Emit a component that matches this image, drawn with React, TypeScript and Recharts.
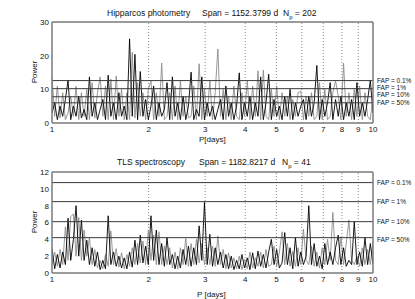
import React from "react";
import { LineChart, Line, XAxis, YAxis, ReferenceLine } from "recharts";

const periods = [
  1.0, 1.0194, 1.0391, 1.0593, 1.0798, 1.1007, 1.122, 1.1438, 1.1659, 1.1885,
  1.2115, 1.235, 1.2589, 1.2833, 1.3082, 1.3335, 1.3594, 1.3857, 1.4125, 1.4399,
  1.4678, 1.4962, 1.5252, 1.5548, 1.5849, 1.6156, 1.6469, 1.6788, 1.7113, 1.7445,
  1.7783, 1.8128, 1.8478, 1.8836, 1.9201, 1.9573, 1.9953, 2.0339, 2.0733, 2.1135,
  2.1544, 2.1962, 2.2387, 2.2821, 2.3263, 2.3714, 2.4174, 2.4642, 2.5119, 2.5606,
  2.6102, 2.6607, 2.7123, 2.7649, 2.8184, 2.873, 2.9286, 2.9854, 3.0432, 3.1022,
  3.1623, 3.2235, 3.286, 3.3497, 3.4145, 3.4807, 3.5481, 3.6169, 3.6869, 3.7584,
  3.8312, 3.9054, 3.9811, 4.0582, 4.1368, 4.217, 4.2987, 4.382, 4.4668, 4.5534,
  4.6416, 4.7315, 4.8232, 4.9166, 5.0119, 5.109, 5.208, 5.3088, 5.4117, 5.5165,
  5.6234, 5.7325, 5.8434, 5.9566, 6.0719, 6.1896, 6.3096, 6.4319, 6.5563, 6.6834,
  6.8129, 6.9448, 7.0795, 7.2167, 7.3564, 7.4989, 7.6443, 7.7923, 7.9433, 8.0972,
  8.254, 8.414, 8.577, 8.7431, 8.9125, 9.0852, 9.2611, 9.4406, 9.6235, 9.8101, 10.0,
];

// Hipparcos photometry power (black / grey traces)
const hipBlack = [
  3, 6, 1, 5, 2, 7, 12.7, 1, 5, 2, 8, 1.5, 4, 1, 13.7, 2, 6, 1, 4, 7,
  1, 14.2, 2, 6, 1, 9, 2, 5, 1, 25, 2, 20.4, 1, 15.3, 2, 7, 1, 5, 11, 1,
  6, 2, 4, 12, 1, 13.7, 2, 6, 1, 8, 1, 5, 15.1, 1, 4, 2, 13.7, 1, 6, 2,
  5, 1, 4, 7, 1, 11, 2, 6, 1, 5, 14.9, 1, 6, 2, 8, 1, 6, 2, 13.7, 1,
  6, 14.5, 1, 7, 2, 5, 1, 8, 2, 10, 1, 6, 2, 5, 7, 1, 8, 2, 6, 17.1,
  1, 7, 2, 6, 12, 1, 7, 2, 8, 1, 6, 2, 7, 1, 12, 2, 6, 2, 7, 12.6, 3,
];
const hipGrey = [
  13.7, 2, 11, 1.5, 9, 1, 3, 8, 2, 10.9, 1, 9, 2, 10, 1, 12, 1.5, 9, 13.7, 2,
  11, 1, 13, 1, 14, 2, 10, 1, 9, 1, 21, 1.5, 12, 2, 9, 1, 10, 12.6, 1, 9,
  2, 17.8, 1, 2, 9, 1, 11, 1, 12.5, 2, 8, 1.5, 2, 11, 1, 17.6, 1, 10, 2, 12.6,
  1, 9, 22, 2, 10, 1, 8, 1, 11, 2, 1, 9, 2, 12.5, 1, 11, 2, 15.5, 1, 15.7,
  2, 1, 10, 2, 11, 1, 9, 2, 8, 1, 7, 2, 9, 9.5, 1, 8, 2, 9, 1, 2,
  12, 1, 10, 1, 2, 9, 12.5, 8, 1, 17.8, 2, 9, 1, 10, 2, 11, 1, 9, 2, 1, 8,
];

// TLS spectroscopy power (black / grey traces)
const tlsBlack = [
  2.9, 0.5, 2.2, 0.6, 2.5, 1, 6.5, 1.5, 4, 8.0, 2, 6.3, 1.5, 3.9, 1, 3, 0.8, 2.5, 0.4, 1.5,
  0.5, 6.8, 1, 2.5, 0.8, 2, 0.6, 1.8, 0.5, 2.5, 0.7, 3.9, 1, 4.5, 1.2, 3.2, 1, 6.8, 1.5, 5.1,
  1, 3.5, 0.8, 4.2, 1, 2.2, 0.5, 2, 0.6, 2.8, 1, 3.2, 0.8, 3, 1, 5.6, 1.5, 8.4, 1, 4.6,
  0.8, 3, 1, 2.5, 0.6, 2.2, 0.5, 2, 0.4, 1.5, 0.5, 2.2, 0.6, 1.8, 0.4, 2.4, 0.5, 2.6, 0.8, 2.2,
  0.6, 2.5, 4, 1, 2.8, 0.6, 1.2, 4.8, 1, 3, 0.5, 4.2, 0.8, 2.5, 1, 2, 8.0, 1, 3.5, 0.8,
  2, 0.5, 3.5, 1, 2.5, 1, 3, 4.5, 1, 3, 0.8, 1.5, 1, 6.1, 1, 2.5, 0.8, 4.2, 1, 3.5, 1,
];
const tlsGrey = [
  1, 2.5, 0.8, 2.8, 1, 5.5, 1.5, 6.7, 7, 2, 6.6, 1.5, 5.1, 2, 4.2, 1, 2.8, 0.6, 1.5, 0.5,
  2.2, 0.8, 5.0, 1, 2.9, 0.7, 2.4, 0.5, 2.2, 0.8, 3, 1, 3.5, 1.2, 3.8, 1, 5.1, 1.5, 4.5, 1,
  4.9, 1, 3.2, 1, 3, 0.6, 2.5, 0.5, 3, 1, 4.1, 0.8, 3.5, 1, 4, 1.2, 3.5, 1, 3, 1,
  3.2, 0.8, 4.4, 1, 2.8, 0.5, 2.4, 0.6, 1.8, 0.5, 2, 0.4, 1.6, 0.5, 2.5, 0.6, 1.8, 0.8, 2.5, 0.6,
  2.8, 0.8, 1, 3.2, 0.8, 2.5, 4.9, 1, 3.5, 0.8, 2.6, 0.8, 3, 1, 5.2, 1.5, 1, 3.2, 0.8, 2.5,
  0.6, 3, 1, 4, 1.5, 7.2, 1.5, 1, 4.3, 1, 3.5, 6.3, 1.5, 1, 2, 0.8, 3, 1, 2.8, 1, 3.8,
];

const xTicks = [1, 2, 3, 4, 5, 6, 7, 8, 9, 10];
const gridPeriods = [2, 3, 4, 5, 6, 7, 8, 9];
const hipYTicks = [0, 10, 20, 30];
const tlsYTicks = [0, 2, 4, 6, 8, 10, 12];
const hipFap = [12.6, 10.2, 7.8, 6.0];
const tlsFap = [10.74, 8.48, 6.1, 4.2];
const fapLabels = ["FAP = 0.1%", "FAP = 1%", "FAP = 10%", "FAP = 50%"];
const hipFapLabelShift = [0, -1, -2, -0.5];
const tlsFapLabelShift = [0, 0, 0, 2];

const FONT = "'Liberation Sans', Arial, Helvetica, sans-serif";
const FRAME = "#7a7a7a";

function Panel({
  black,
  grey,
  yMax,
  yTicks,
  fap,
  shifts,
}: {
  black: number[];
  grey: number[];
  yMax: number;
  yTicks: number[];
  fap: number[];
  shifts: number[];
}) {
  const data = periods.map((p, i) => ({ p, b: black[i], g: grey[i] }));
  const tickStyle = { fontSize: 8, fill: "#111", fontFamily: FONT };
  return (
    <LineChart
      width={415}
      height={150}
      data={data}
      margin={{ top: 0, right: 0, bottom: 0, left: 0 }}
    >
      <XAxis
        dataKey="p"
        type="number"
        scale="log"
        domain={[1, 10]}
        ticks={xTicks}
        allowDataOverflow
        height={27}
        tickSize={0}
        tickMargin={3}
        tickLine={false}
        axisLine={{ stroke: FRAME, strokeWidth: 1.5 }}
        tick={tickStyle}
        interval={0}
      />
      <XAxis
        xAxisId="top"
        orientation="top"
        dataKey="p"
        type="number"
        scale="log"
        domain={[1, 10]}
        ticks={xTicks}
        allowDataOverflow
        height={22}
        tick={false}
        tickLine={false}
        axisLine={{ stroke: FRAME, strokeWidth: 1.5 }}
      />
      <YAxis
        type="number"
        domain={[0, yMax]}
        ticks={yTicks}
        width={52}
        tickSize={0}
        tickMargin={3}
        tickLine={false}
        axisLine={{ stroke: FRAME, strokeWidth: 1.5 }}
        tick={tickStyle}
        interval={0}
      />
      <YAxis
        yAxisId="right"
        orientation="right"
        type="number"
        domain={[0, yMax]}
        ticks={yTicks}
        width={42}
        tick={false}
        tickLine={false}
        axisLine={{ stroke: FRAME, strokeWidth: 1.5 }}
      />
      {gridPeriods.map((g) => (
        <ReferenceLine
          key={"v" + g}
          x={g}
          stroke="#8a8a8a"
          strokeDasharray="1 2"
          strokeWidth={1}
        />
      ))}
      <Line
        dataKey="g"
        stroke="#8c8c8c"
        strokeWidth={0.9}
        dot={false}
        isAnimationActive={false}
      />
      <Line
        dataKey="b"
        stroke="#000"
        strokeWidth={0.9}
        dot={false}
        isAnimationActive={false}
      />
      {fap.map((v, i) => (
        <ReferenceLine
          key={"f" + i}
          y={v}
          stroke="#3a3a3a"
          strokeWidth={1}
          label={{
            value: fapLabels[i],
            position: "right",
            offset: 4,
            fontSize: 6.5,
            fill: "#111",
            fontFamily: FONT,
            dy: shifts[i],
          }}
        />
      ))}
    </LineChart>
  );
}

export default function App() {
  const t = { fontFamily: FONT, fill: "#111" } as const;
  return (
    <div
      style={{
        position: "absolute",
        left: 0,
        top: 0,
        width: 415,
        height: 299,
        background: "#fff",
      }}
    >
      <div style={{ position: "absolute", left: 0, top: 0 }}>
        <Panel
          black={hipBlack}
          grey={hipGrey}
          yMax={30}
          yTicks={hipYTicks}
          fap={hipFap}
          shifts={hipFapLabelShift}
        />
      </div>
      <div style={{ position: "absolute", left: 0, top: 150 }}>
        <Panel
          black={tlsBlack}
          grey={tlsGrey}
          yMax={12}
          yTicks={tlsYTicks}
          fap={tlsFap}
          shifts={tlsFapLabelShift}
        />
      </div>
      <svg
        width={415}
        height={299}
        style={{ position: "absolute", left: 0, top: 0, pointerEvents: "none" }}
      >
        <text x={107} y={16} fontSize={8.5} {...t}>Hipparcos photometry</text>
        <text x={202} y={16} fontSize={8.5} {...t}>Span = 1152.3799 d</text>
        <text x={283} y={16} fontSize={8.5} {...t}>
          N<tspan fontSize={6} dy={2.5}>p</tspan>
          <tspan dy={-2.5}> = 202</tspan>
        </text>
        <text x={117} y={165} fontSize={8.5} {...t}>TLS spectroscopy</text>
        <text x={199} y={165} fontSize={8.5} {...t}>Span = 1182.8217 d</text>
        <text x={282} y={165} fontSize={8.5} {...t}>
          N<tspan fontSize={6} dy={2.5}>p</tspan>
          <tspan dy={-2.5}> = 41</tspan>
        </text>
        <text x={199} y={142} fontSize={8} {...t}>P[days]</text>
        <text x={197} y={297} fontSize={8} {...t}>P [days]</text>
        <text
          x={0}
          y={0}
          fontSize={8}
          textAnchor="middle"
          transform="translate(37 72) rotate(-90)"
          {...t}
        >
          Power
        </text>
        <text
          x={0}
          y={0}
          fontSize={8}
          textAnchor="middle"
          transform="translate(37 222) rotate(-90)"
          {...t}
        >
          Power
        </text>
      </svg>
    </div>
  );
}
